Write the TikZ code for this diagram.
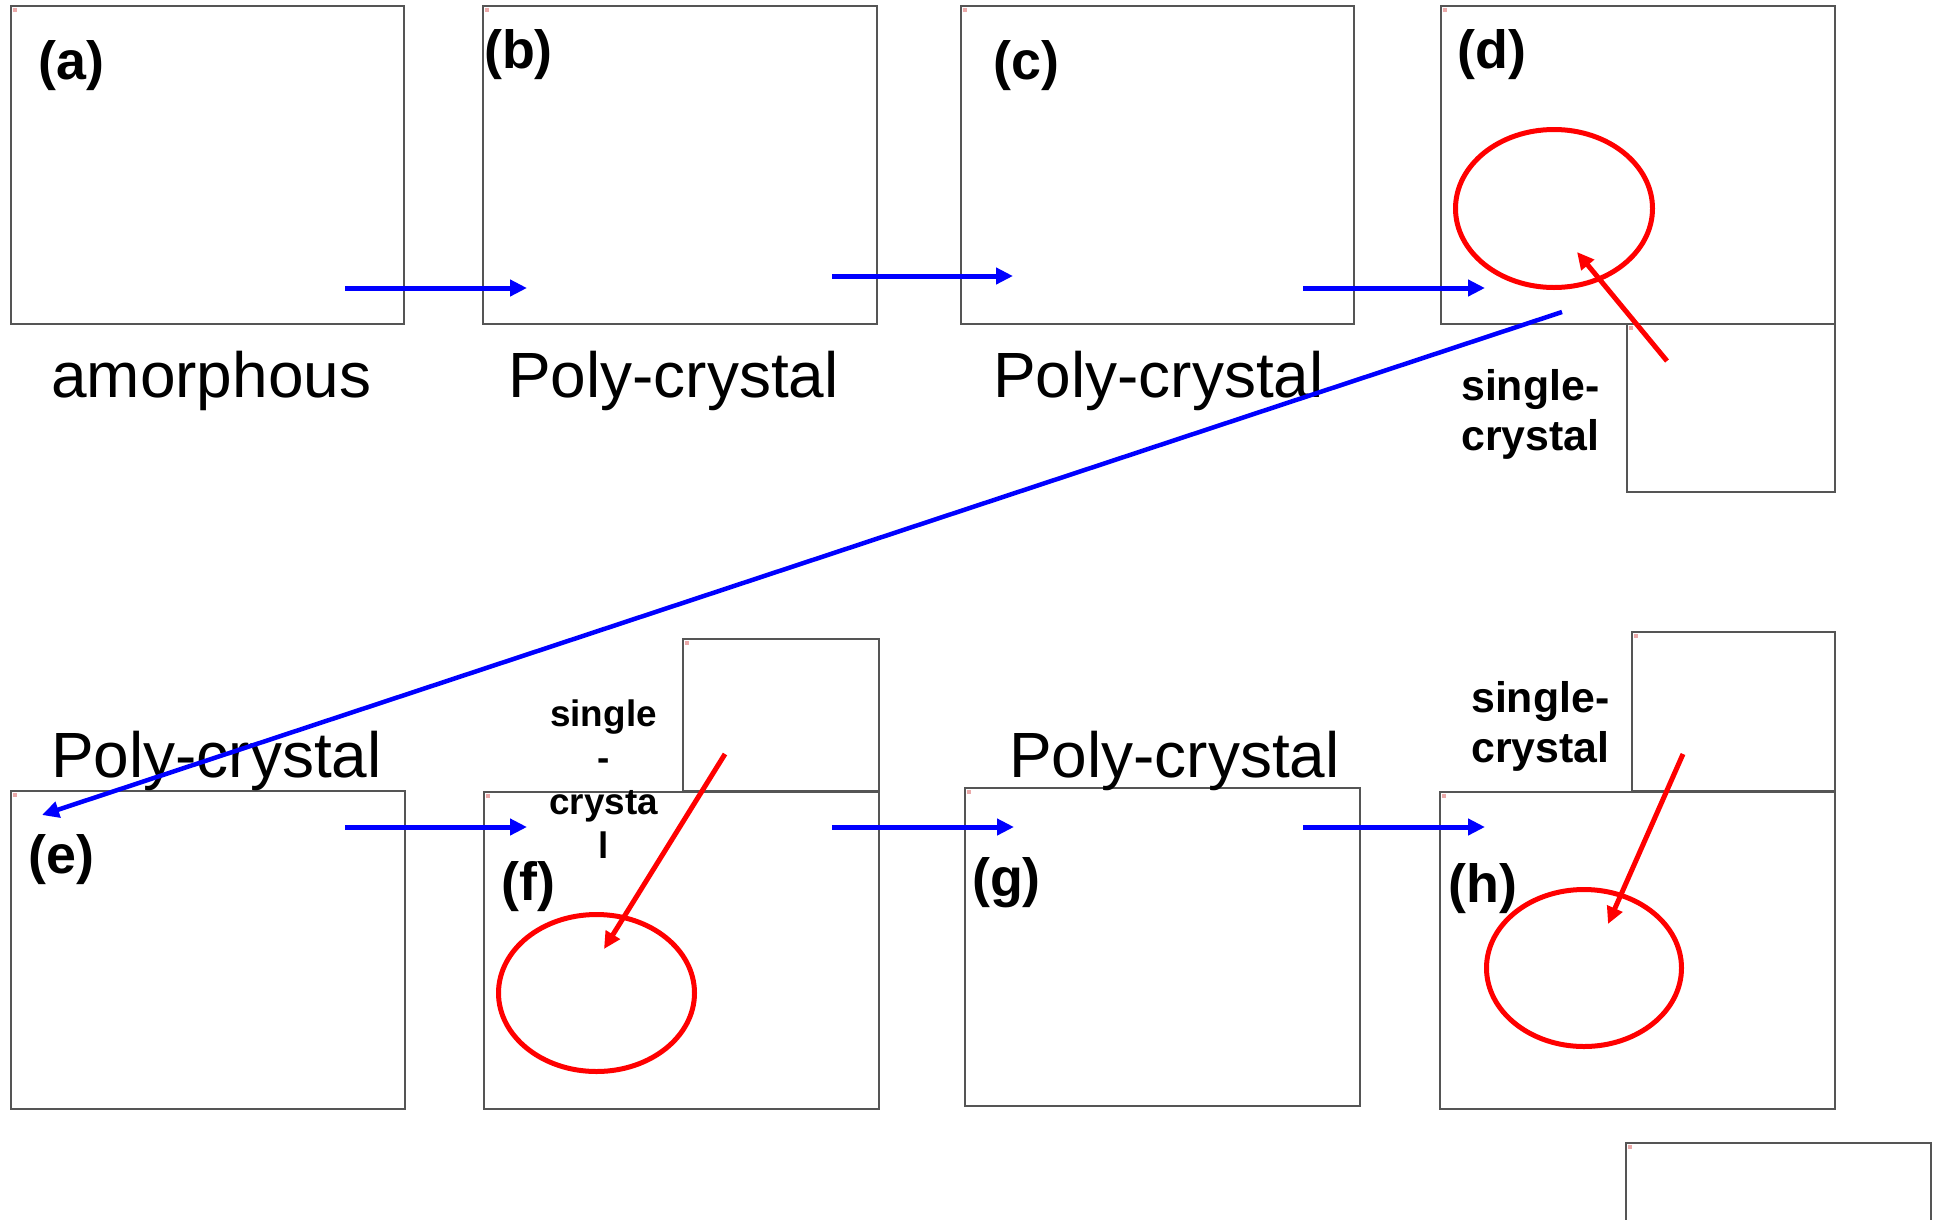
\documentclass[tikz,border=0pt]{standalone}
\usepackage{fontspec}
\setmainfont{Liberation Sans}
\usetikzlibrary{arrows.meta,shapes.geometric}
\definecolor{pblue}{RGB}{0,0,255}
\definecolor{pred}{RGB}{255,0,0}
\definecolor{frame}{RGB}{85,85,85}
\definecolor{icon}{RGB}{235,170,170}
\newcommand\pbox[5]{%
  \node[panel, minimum width={(#4-#2)*1bp}, minimum height={(#5-#3)*1bp}] (#1) at ({(#2+#4)/2},{(#3+#5)/2}) {};
  \fill[icon] (#2+2,#3+2) rectangle ++(4,4);
}
\begin{document}
\begin{tikzpicture}[x=1bp,y=-1bp,
  panel/.style={draw=frame, line width=1.5bp, inner sep=0pt, outer sep=0pt, rectangle},
  flow/.style={draw=pblue, line width=5bp, -{Triangle[length=17bp,width=16bp]}},
  hint/.style={draw=pred, line width=5bp, -{Triangle[length=17bp,width=16bp]}},
  ring/.style={ellipse, draw=pred, line width=5bp, inner sep=0pt},
  tag/.style={font=\fontsize{54}{60}\selectfont\bfseries, anchor=base west, inner sep=0pt},
  caption/.style={font=\fontsize{64.2}{77}\selectfont, anchor=base west, inner sep=0pt},
  note/.style={font=\fontsize{43}{51}\selectfont\bfseries, anchor=base west, inner sep=0pt},
  smallnote/.style={font=\fontsize{37}{44.3}\selectfont\bfseries, anchor=base, inner sep=0pt},
]
\useasboundingbox (0,0) rectangle (1937,1219);
\begin{scope}
\clip (0,0) rectangle (1937,1219);
% panels
\pbox{pa}{11}{6}{404}{324}
\pbox{pb}{483}{6}{877}{324}
\pbox{pc}{961}{6}{1354}{324}
\pbox{pd}{1441}{6}{1835}{324}
\pbox{pds}{1627}{324}{1835}{492}
\pbox{pe}{11}{791}{405}{1109}
\pbox{pf}{484}{792}{879}{1109}
\pbox{pfs}{683}{639}{879}{791}
\pbox{pg}{965}{788}{1360}{1106}
\pbox{ph}{1440}{792}{1835}{1109}
\pbox{phs}{1632}{632}{1835}{791}
\pbox{pz}{1626}{1143}{1931}{1260}
\end{scope}
% panel tags
\node[tag] (la) at (38,79) {(a)};
\node[tag] (lb) at (484,68) {(b)};
\node[tag] (lc) at (993,79) {(c)};
\node[tag] (ld) at (1457,68) {(d)};
\node[tag] (le) at (28,873) {(e)};
\node[tag] (lf) at (501,900) {(f)};
\node[tag] (lg) at (972,896) {(g)};
\node[tag] (lh) at (1448,902) {(h)};
% captions
\node[caption] (ca) at (51,397) {amorphous};
\node[caption] (cb) at (508,397) {Poly-crystal};
\node[caption] (cc) at (993,397) {Poly-crystal};
\node[caption] (ce) at (51,777) {Poly-crystal};
\node[caption] (cg) at (1009,777) {Poly-crystal};
% single-crystal notes
\node[note] (sd) at (1461,400) {\begin{tabular}[t]{@{}l@{}}single-\\crystal\end{tabular}};
\node[note] (sh) at (1471,712) {\begin{tabular}[t]{@{}l@{}}single-\\crystal\end{tabular}};
\node[smallnote] (sf) at (603.5,726) {\begin{tabular}[t]{@{}c@{}}single\\-\\crysta\\l\end{tabular}};
% red rings
\node[ring, minimum width=197bp, minimum height=158bp] (rd) at (1554,208.5) {};
\node[ring, minimum width=196bp, minimum height=157bp] (rf) at (596.5,993) {};
\node[ring, minimum width=195bp, minimum height=157bp] (rh) at (1584,968) {};
% arrow end points
\coordinate (a1) at (345,288);  \coordinate (b0) at (527,288);
\coordinate (b1) at (832,276);  \coordinate (c0) at (1013,276);
\coordinate (c1) at (1303,288); \coordinate (d0) at (1485,288);
\coordinate (d1) at (1562,312); \coordinate (e0) at (42,815);
\coordinate (e1) at (345,827);  \coordinate (f0) at (527,827);
\coordinate (f1) at (832,827);  \coordinate (g0) at (1014,827);
\coordinate (g1) at (1303,827); \coordinate (h0) at (1485,827);
\coordinate (rd1) at (1667,361); \coordinate (rd0) at (1577,252);
\coordinate (rf1) at (725,754);  \coordinate (rf0) at (604,949);
\coordinate (rh1) at (1683,754); \coordinate (rh0) at (1608,924);
% blue flow arrows
\draw[flow] (a1) -- (b0);
\draw[flow] (b1) -- (c0);
\draw[flow] (c1) -- (d0);
\draw[flow, line width=4.5bp] (d1) -- (e0);
\draw[flow] (e1) -- (f0);
\draw[flow] (f1) -- (g0);
\draw[flow] (g1) -- (h0);
% red arrows
\draw[hint] (rd1) -- (rd0);
\draw[hint] (rf1) -- (rf0);
\draw[hint] (rh1) -- (rh0);
\end{tikzpicture}
\end{document}
